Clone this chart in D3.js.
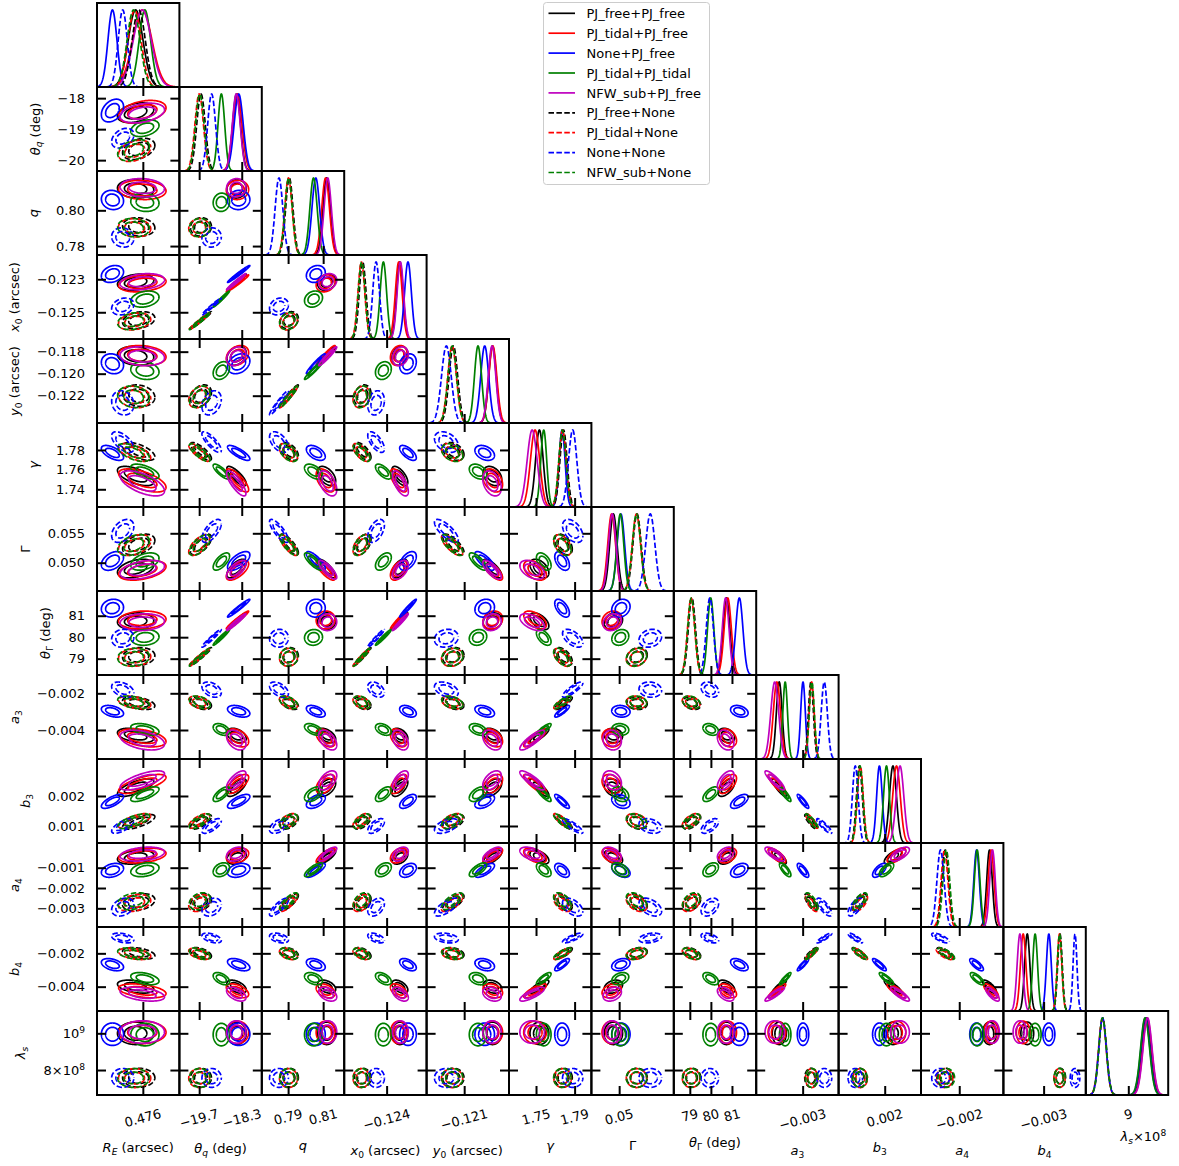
<!DOCTYPE html>
<html>
<head>
<meta charset="utf-8">
<script src="https://cdn.jsdelivr.net/npm/d3@7"></script>
<style>
  body { margin: 0; background: #fff; }
  svg { display: block; }
  text { font-family: "DejaVu Sans", sans-serif; fill: #000; }
</style>
</head>
<body>
<svg id="chart" width="1179" height="1166"></svg>
<script>
// ---------------- runs ----------------
const seriesNames = ["PJ_free+PJ_free", "PJ_tidal+PJ_free", "None+PJ_free", "PJ_tidal+PJ_tidal",
  "NFW_sub+PJ_free", "PJ_free+None", "PJ_tidal+None", "None+None", "NFW_sub+None"];
const seriesColors = ["#000000", "#ff0000", "#0000ff", "#008000", "#bf00bf",
  "#000000", "#ff0000", "#0000ff", "#008000"];
const seriesDashed = [false, false, false, false, false, true, true, true, true];

// ---------------- posterior summaries (one entry per run, order as seriesNames) ----------------
const meanRE     = [0.47586, 0.47599, 0.47541, 0.47604, 0.47599, 0.47592, 0.47584, 0.47561, 0.47582];
const sdRE       = [0.000144, 0.000188, 0.000088, 0.000112, 0.000176, 0.000128, 0.000128, 0.000088, 0.000126];
const meanThetaQ = [-18.47, -18.44, -18.40, -18.97, -18.48, -19.64, -19.70, -19.29, -19.68];
const sdThetaQ   = [0.13, 0.15, 0.15, 0.11, 0.13, 0.14, 0.14, 0.13, 0.14];
const meanQ      = [0.8120, 0.8114, 0.8058, 0.8045, 0.8126, 0.7907, 0.7902, 0.7848, 0.7903];
const sdQ        = [0.0021, 0.0022, 0.0022, 0.0021, 0.0021, 0.0021, 0.0021, 0.0022, 0.0021];
const meanX0     = [-0.12318, -0.12325, -0.12268, -0.12420, -0.12315, -0.12548, -0.12556, -0.12465, -0.12554];
const sdX0       = [0.00020, 0.00021, 0.00021, 0.00020, 0.00020, 0.00021, 0.00021, 0.00021, 0.00021];
const meanY0     = [-0.11838, -0.11835, -0.11910, -0.11972, -0.11842, -0.12200, -0.12212, -0.12265, -0.12210];
const sdY0       = [0.00035, 0.00037, 0.00037, 0.00033, 0.00035, 0.00040, 0.00040, 0.00045, 0.00040];
const meanGamma  = [1.7535, 1.7490, 1.7770, 1.7580, 1.7460, 1.7785, 1.7775, 1.7880, 1.7773];
const sdGamma    = [0.0040, 0.0048, 0.0031, 0.0031, 0.0052, 0.0037, 0.0037, 0.0043, 0.0037];
const meanShear  = [0.0490, 0.0487, 0.0503, 0.0502, 0.0488, 0.0531, 0.0530, 0.0554, 0.0530];
const sdShear    = [0.00065, 0.00068, 0.00065, 0.00060, 0.00065, 0.00072, 0.00072, 0.00080, 0.00072];
const meanThetaG = [80.74, 80.80, 81.35, 79.99, 80.70, 79.10, 79.06, 79.95, 79.07];
const sdThetaG   = [0.16, 0.17, 0.17, 0.15, 0.16, 0.17, 0.17, 0.17, 0.17];
const meanA3     = [-0.00430, -0.00443, -0.00298, -0.00397, -0.00455, -0.00254, -0.00250, -0.00180, -0.00249];
const sdA3       = [0.00016, 0.00020, 0.00013, 0.00013, 0.00022, 0.00014, 0.00014, 0.00017, 0.00014];
const meanB3     = [0.00228, 0.00240, 0.00182, 0.00206, 0.00252, 0.00114, 0.00117, 0.00100, 0.00116];
const sdB3       = [0.00012, 0.00013, 0.000095, 0.00010, 0.00013, 0.00010, 0.00010, 0.00010, 0.00010];
const meanA4     = [-0.00048, -0.00040, -0.00113, -0.00110, -0.00033, -0.00270, -0.00274, -0.00294, -0.00265];
const sdA4       = [0.00014, 0.00015, 0.00014, 0.00014, 0.00014, 0.00017, 0.00017, 0.00018, 0.00017];
const meanB4     = [-0.00400, -0.00425, -0.00268, -0.00352, -0.00445, -0.00200, -0.00203, -0.00108, -0.00202];
const sdB4       = [0.00016, 0.00017, 0.00015, 0.00015, 0.00017, 0.00014, 0.00014, 0.00012, 0.00014];
const meanLambda = [1.000e9, 1.005e9, 0.995e9, 0.993e9, 1.007e9, 0.758e9, 0.756e9, 0.757e9, 0.757e9];
const sdLambda   = [2.5e7, 2.5e7, 2.5e7, 2.5e7, 2.5e7, 2.1e7, 2.1e7, 2.1e7, 2.1e7];

// correlation coefficients, lower triangle: corrRows[row][col] with col < row
const corrRows = [
  [],
  [0.35],
  [-0.10, 0.05],
  [0.25, 0.98, 0.20],
  [-0.15, 0.30, 0.96, 0.20],
  [-0.60, -0.80, -0.50, -0.65, -0.35],
  [0.40, 0.65, -0.80, 0.50, -0.75, -0.45],
  [0.10, 0.97, 0.05, 0.97, 0.15, -0.55, 0.20],
  [-0.40, -0.40, -0.50, -0.40, -0.40, 0.85, -0.10, -0.30],
  [0.70, 0.70, 0.50, 0.60, 0.50, -0.85, -0.30, 0.60, -0.88],
  [0.30, 0.30, 0.80, 0.40, 0.70, -0.50, -0.45, 0.40, -0.75, 0.65],
  [-0.40, -0.50, -0.40, -0.50, -0.30, 0.80, 0.30, -0.50, 0.90, -0.85, -0.75],
  [0, 0, 0, 0, 0, 0, 0, 0, 0, 0, 0, 0]
];

// ---------------- axes ----------------
const domains = [
  [0.47511, 0.47671], [-20.35, -17.64], [0.775, 0.822], [-0.12662, -0.12153],
  [-0.12448, -0.11685], [1.722, 1.8074], [0.04519, 0.05947], [78.24, 82.15],
  [-0.00558, -0.001003], [0.000433, 0.003233], [-0.00392, 0.000217], [-0.00546, -0.00042],
  [6.64e8, 1.1215e9]
];
const xTickValues = [[0.476], [-19.7, -18.3], [0.79, 0.81], [-0.124], [-0.121], [1.75, 1.79],
  [0.05], [79, 80, 81], [-0.003], [0.002], [-0.002], [-0.003], [9e8]];
const yTickValues = [[], [-18, -19, -20], [0.80, 0.78], [-0.123, -0.125], [-0.118, -0.120, -0.122],
  [1.78, 1.76, 1.74], [0.055, 0.050], [81, 80, 79], [-0.002, -0.004], [0.002, 0.001],
  [-0.001, -0.002, -0.003], [-0.002, -0.004], [1e9, 8e8]];
const xTickFormats = [".3f", ".1f", ".2f", ".3f", ".3f", ".2f", ".2f", ".0f", ".3f", ".3f", ".3f", ".3f", null];
const yTickFormats = [null, ".0f", ".2f", ".3f", ".3f", ".2f", ".3f", ".0f", ".3f", ".3f", ".3f", ".3f", null];

// axis labels as math segments: [text, style]; style: "i" italic, "sub"/"subi" subscript, "sup" superscript
const paramLabels = [
  [["R", "i"], ["E", "subi"], [" (arcsec)", ""]],
  [["θ", "i"], ["q", "subi"], [" (deg)", ""]],
  [["q", "i"]],
  [["x", "i"], ["0", "sub"], [" (arcsec)", ""]],
  [["y", "i"], ["0", "sub"], [" (arcsec)", ""]],
  [["γ", "i"]],
  [["Γ", ""]],
  [["θ", "i"], ["Γ", "sub"], [" (deg)", ""]],
  [["a", "i"], ["3", "sub"]],
  [["b", "i"], ["3", "sub"]],
  [["a", "i"], ["4", "sub"]],
  [["b", "i"], ["4", "sub"]],
  [["λ", "i"], ["s", "subi"]]
];

const means = [meanRE, meanThetaQ, meanQ, meanX0, meanY0, meanGamma, meanShear, meanThetaG,
  meanA3, meanB3, meanA4, meanB4, meanLambda];
const sds = [sdRE, sdThetaQ, sdQ, sdX0, sdY0, sdGamma, sdShear, sdThetaG,
  sdA3, sdB3, sdA4, sdB4, sdLambda];

// ---------------- layout ----------------
const N = 13, LEFT = 97, TOP = 3, CW = 82.4, CH = 84.0;
const FS = 13, TICK = 9, LW = 1.7, DASH = "5.5,2.4";
const levelRadii = [Math.sqrt(-2 * Math.log(1 - 0.68)), Math.sqrt(-2 * Math.log(1 - 0.95))];

const svg = d3.select("#chart");
const defs = svg.append("defs");
const plotLayer = svg.append("g");
const frameLayer = svg.append("g");
const textLayer = svg.append("g");

const xS = domains.map((d, i) => d3.scaleLinear().domain(d).range([LEFT + i * CW, LEFT + (i + 1) * CW]));
const yS = domains.map((d, j) => d3.scaleLinear().domain(d).range([TOP + (j + 1) * CH, TOP + j * CH]));

function addMath(sel, segs, size) {
  let shifted = 0;
  segs.forEach(([t, st]) => {
    const sub = st.startsWith("sub"), sup = st === "sup";
    const ts = sel.append("tspan").text(t)
      .attr("font-style", st.endsWith("i") ? "italic" : "normal")
      .attr("font-size", (sub || sup) ? size * 0.7 : size);
    const target = sub ? size * 0.22 : sup ? -size * 0.4 : 0;
    if (target !== shifted) { ts.attr("dy", target - shifted); shifted = target; }
  });
  return sel;
}

// dashed runs get staggered dash phases so overlapping curves stay distinguishable
function styleLine(path, s) {
  path.attr("fill", "none").attr("stroke", seriesColors[s]).attr("stroke-width", LW)
    .attr("stroke-dasharray", seriesDashed[s] ? DASH : null)
    .attr("stroke-dashoffset", seriesDashed[s] ? (s - 5) * 2.6 : null)
    .attr("stroke-linejoin", "round");
}

const lineGen = d3.line();
const closedGen = d3.line().curve(d3.curveLinearClosed);

for (let j = 0; j < N; j++) {
  for (let i = 0; i <= j; i++) {
    const cx0 = LEFT + i * CW, cy0 = TOP + j * CH;
    const clipId = `clip-${i}-${j}`;
    defs.append("clipPath").attr("id", clipId)
      .append("rect").attr("x", cx0).attr("y", cy0).attr("width", CW).attr("height", CH);
    const g = plotLayer.append("g").attr("clip-path", `url(#${clipId})`);

    if (i === j) {
      // 1D marginal: each run scaled to its own peak
      const yd = d3.scaleLinear().domain([0, 1.09]).range([cy0 + CH, cy0]);
      const dom = domains[i];
      const xs = d3.range(0, 301).map(k => dom[0] + (dom[1] - dom[0]) * k / 300);
      seriesNames.forEach((_, s) => {
        const m = means[i][s], sd = sds[i][s];
        const pts = xs.map(x => [xS[i](x), yd(Math.exp(-0.5 * ((x - m) / sd) ** 2))]);
        styleLine(g.append("path").attr("d", lineGen(pts)), s);
      });
    } else {
      // 2D credible regions (68% and 95%)
      const rho = corrRows[j][i], c = Math.sqrt(1 - rho * rho);
      seriesNames.forEach((_, s) => {
        const mx = means[i][s], my = means[j][s], sx = sds[i][s], sy = sds[j][s];
        levelRadii.forEach(r => {
          const pts = d3.range(0, 144).map(k => {
            const t = 2 * Math.PI * k / 144, u = Math.cos(t), v = Math.sin(t);
            return [xS[i](mx + r * sx * u), yS[j](my + r * sy * (rho * u + c * v))];
          });
          styleLine(g.append("path").attr("d", closedGen(pts)), s);
        });
      });
    }

    // ticks pointing into the panel
    const fg = frameLayer.append("g");
    const axes = [];
    axes.push([d3.axisBottom(xS[i]), `translate(0,${cy0 + CH})`]);
    if (i !== j) {
      axes.push([d3.axisTop(xS[i]), `translate(0,${cy0})`]);
      axes.push([d3.axisLeft(yS[j]).tickValues(yTickValues[j]), `translate(${cx0},0)`]);
      axes.push([d3.axisRight(yS[j]).tickValues(yTickValues[j]), `translate(${cx0 + CW},0)`]);
    }
    axes.forEach(([ax, tr], k) => {
      if (k < 2) ax.tickValues(xTickValues[i]);
      ax.tickSizeInner(-TICK).tickSizeOuter(0).tickFormat("");
      const ag = fg.append("g").attr("transform", tr).call(ax);
      ag.select(".domain").remove();
      ag.selectAll("line").attr("stroke", "#000").attr("stroke-width", 2);
    });
    fg.append("rect").attr("x", cx0).attr("y", cy0).attr("width", CW).attr("height", CH)
      .attr("fill", "none").attr("stroke", "#000").attr("stroke-width", 2);
  }
}

// ---------------- y tick labels and labels (first column) ----------------
for (let j = 1; j < N; j++) {
  const labels = [];
  yTickValues[j].forEach(v => {
    const t = textLayer.append("text").attr("x", LEFT - 12).attr("y", yS[j](v) + FS * 0.36)
      .attr("text-anchor", "end").attr("font-size", FS);
    if (j === 12) {
      addMath(t, v === 1e9 ? [["10", ""], ["9", "sup"]] : [["8×10", ""], ["8", "sup"]], FS);
    } else {
      t.text(d3.format(yTickFormats[j])(v));
    }
    labels.push(t.node().getBBox());
  });
  const minLeft = d3.min(labels, b => b.x);
  const cy = TOP + (j + 0.5) * CH;
  const lab = textLayer.append("text").attr("text-anchor", "middle").attr("font-size", FS)
    .attr("transform", `translate(${minLeft - 18},${cy}) rotate(-90)`);
  addMath(lab, paramLabels[j], FS);
}

// ---------------- x tick labels and labels (bottom row) ----------------
const ROT = -15, TICKTOP = 1106;
function rotatedBox(b, deg) {
  const a = deg * Math.PI / 180, ca = Math.cos(a), sa = Math.sin(a);
  const corners = [[b.x, b.y], [b.x + b.width, b.y], [b.x, b.y + b.height], [b.x + b.width, b.y + b.height]]
    .map(([x, y]) => [x * ca - y * sa, x * sa + y * ca]);
  return {
    minX: d3.min(corners, p => p[0]), maxX: d3.max(corners, p => p[0]),
    minY: d3.min(corners, p => p[1]), maxY: d3.max(corners, p => p[1])
  };
}
for (let i = 0; i < N; i++) {
  let bottom = TICKTOP;
  xTickValues[i].forEach(v => {
    const g = textLayer.append("g");
    const t = g.append("text").attr("text-anchor", "middle").attr("font-size", FS)
      .attr("transform", `rotate(${ROT})`)
      .text(i === 12 ? d3.format(".0f")(v / 1e8) : d3.format(xTickFormats[i])(v));
    const rb = rotatedBox(t.node().getBBox(), ROT);
    const tx = xS[i](v) - (rb.minX + rb.maxX) / 2;
    const ty = TICKTOP - rb.minY;
    g.attr("transform", `translate(${tx},${ty})`);
    bottom = Math.max(bottom, ty + rb.maxY);
  });
  const cx = LEFT + (i + 0.5) * CW;
  if (i < 12) {
    const lab = textLayer.append("text").attr("x", cx).attr("y", bottom + 10 + FS * 0.93)
      .attr("text-anchor", "middle").attr("font-size", FS);
    addMath(lab, paramLabels[i], FS);
  } else {
    const lab = textLayer.append("text").attr("x", cx - 6.5).attr("y", 1141)
      .attr("text-anchor", "start").attr("font-size", FS);
    addMath(lab, paramLabels[i].concat([["×10", ""], ["8", "sup"]]), FS);
  }
}

// ---------------- legend ----------------
const leg = svg.append("g");
leg.append("rect").attr("x", 543.5).attr("y", 2.5).attr("width", 166).attr("height", 182)
  .attr("rx", 3).attr("fill", "#fff").attr("fill-opacity", 0.8)
  .attr("stroke", "#cccccc").attr("stroke-width", 1);
seriesNames.forEach((name, s) => {
  const y = 13.3 + s * 19.9;
  leg.append("path").attr("d", lineGen([[548.5, y], [575, y]]))
    .attr("fill", "none").attr("stroke", seriesColors[s]).attr("stroke-width", LW)
    .attr("stroke-dasharray", seriesDashed[s] ? DASH : null);
  leg.append("text").attr("x", 586.5).attr("y", y + FS * 0.36).attr("font-size", FS).text(name);
});
</script>
</body>
</html>
